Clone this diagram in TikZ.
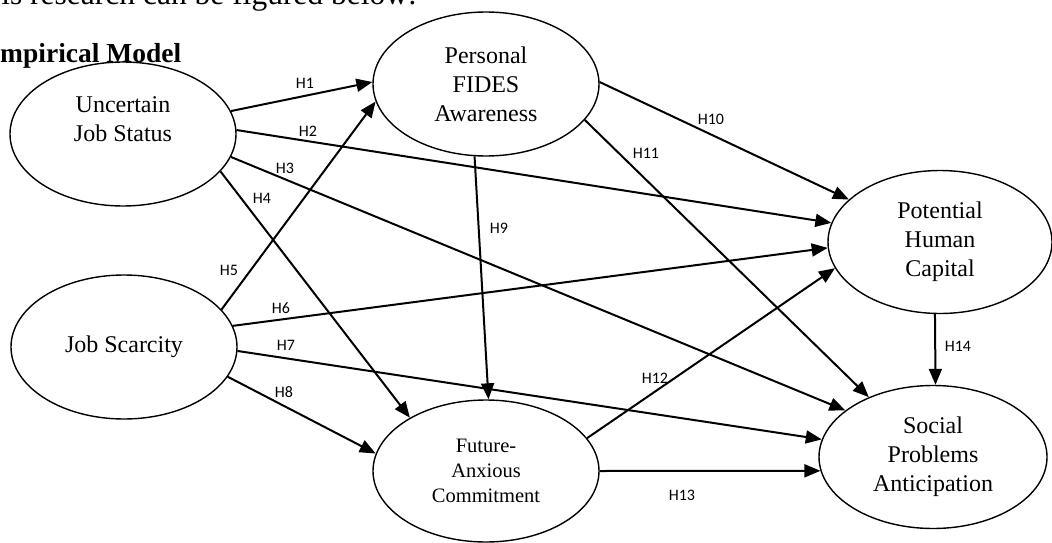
\documentclass[tikz,border=0pt]{standalone}
\usepackage{fontspec}
\setmainfont{Liberation Serif}
\newfontfamily\labfont{Carlito}
\usetikzlibrary{shapes.geometric,arrows.meta}
\begin{document}
\begin{tikzpicture}[x=1pt,y=-1pt,
  construct/.style={ellipse,draw,line width=1.4pt,inner sep=0pt,minimum width=226pt,minimum height=144pt,align=center,font=\fontsize{24}{29}\selectfont},
  arr/.style={line width=2pt,-{Triangle[length=16pt,width=13pt]}},
  hyp/.style={font=\labfont\fontsize{16}{18}\selectfont,inner sep=0pt}]
\useasboundingbox (0,0) rectangle (1052,543);

% text of the page around the figure
\node[anchor=base east,inner sep=0pt,font=\fontsize{31.5}{36}\selectfont] (intro) at (417,5) {is research can be figured below:};
\node[anchor=base west,inner sep=0pt,font=\bfseries\fontsize{27.5}{32}\selectfont] (title) at (0,63) {mpirical Model};

% constructs
\node[construct] (U) at (123,134) {Uncertain\\Job Status\\\mbox{}};
\node[construct] (J) at (124,347) {Job Scarcity};
\node[construct] (P) at (486,84) {Personal\\FIDES\\Awareness};
\node[construct,minimum width=224pt,minimum height=143pt] (C) at (940,242) {Potential\\Human\\Capital};
\node[construct,minimum height=142pt,font=\fontsize{20.5}{25}\selectfont] (F) at (486,471) {Future-\\Anxious\\Commitment};
\node[construct,minimum width=228pt,minimum height=143pt] (S) at (933,457) {Social\\Problems\\Anticipation};

% hypotheses paths
\draw[arr] (U.12) -- (P.179);
\draw[arr] (U.2) -- (C.170);
\draw[arr] (U.-12) -- (S.152);
\draw[arr] (U.-21) -- (F.145);
\draw[arr] (J.21) -- (P.189);
\draw[arr] (J.11) -- (C.183);
\draw[arr] (J.-2) -- (S.171);
\draw[arr] (J.-16) -- (F.171);
\draw[arr] (P.261) -- (F.88);
\draw[arr] (P.1) -- (C.155);
\draw[arr] (P.-20) -- (S.137);
\draw[arr] (F.18) -- (C.194);
\draw[arr] (F.0) -- (S.187);
\draw[arr] (C.266) -- (S.88);

% labels
\node[hyp] (h1) at (305,83) {H1};
\node[hyp] (h2) at (308,131) {H2};
\node[hyp] (h3) at (285,168) {H3};
\node[hyp] (h4) at (262,198) {H4};
\node[hyp] (h5) at (229,270) {H5};
\node[hyp] (h6) at (281,308) {H6};
\node[hyp] (h7) at (286,345) {H7};
\node[hyp] (h8) at (284,392) {H8};
\node[hyp] (h9) at (499,228) {H9};
\node[hyp] (h10) at (711,119) {H10};
\node[hyp] (h11) at (646,153) {H11};
\node[hyp] (h12) at (655,378) {H12};
\node[hyp] (h13) at (682,495) {H13};
\node[hyp] (h14) at (958,346) {H14};
\end{tikzpicture}
\end{document}
